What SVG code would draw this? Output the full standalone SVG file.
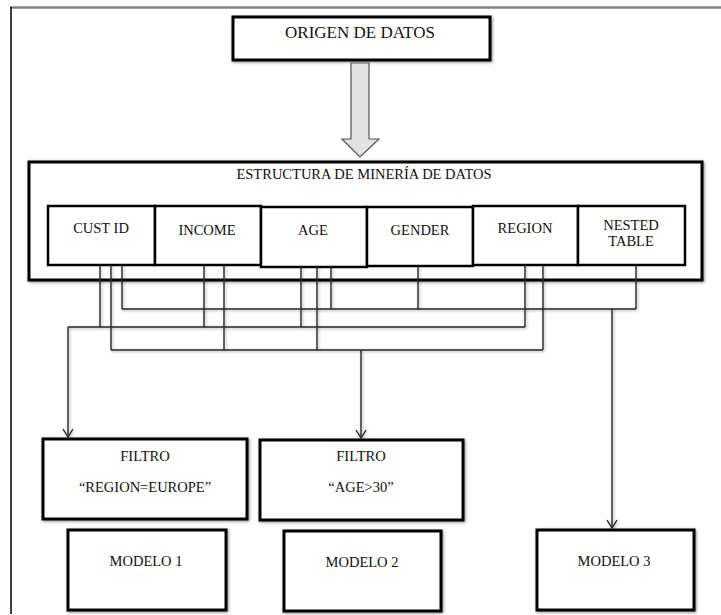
<svg xmlns="http://www.w3.org/2000/svg" width="721" height="615" viewBox="0 0 721 615">
  <style>
    .box { fill: #ffffff; stroke: #000000; stroke-width: 3; filter: url(#shadow); }
    .cell { fill: #ffffff; stroke: #000000; stroke-width: 2.5; }
    .lbl { font-family: "Liberation Serif", "DejaVu Serif", serif; font-size: 14.5px; fill: #111111; text-anchor: middle; }
    .wire { fill: none; stroke: #2a2a2a; stroke-width: 1.4; filter: url(#lineShadow); }
  </style>
  <defs>
    <filter id="shadow" x="-10%" y="-20%" width="120%" height="140%">
      <feDropShadow dx="1" dy="1" stdDeviation="1.6" flood-color="#000000" flood-opacity="0.45"/>
    </filter>
    <!-- user-space region so straight (zero-width) wires still render -->
    <filter id="lineShadow" filterUnits="userSpaceOnUse" x="0" y="0" width="721" height="615">
      <feDropShadow dx="1" dy="1" stdDeviation="1.4" flood-color="#000000" flood-opacity="0.35"/>
    </filter>
    <marker id="vhead" viewBox="-10 -6 12 12" markerWidth="12" markerHeight="12" refX="0" refY="0" orient="auto" markerUnits="userSpaceOnUse">
      <path d="M-8,-5 L0,0 L-8,5" fill="none" stroke="#2a2a2a" stroke-width="1.4"/>
    </marker>
  </defs>

  <rect width="721" height="615" fill="#ffffff"/>

  <!-- page frame -->
  <line x1="10" y1="7.5" x2="721" y2="7.5" stroke="#808080" stroke-width="2.5"/>
  <line x1="11" y1="7" x2="11" y2="614" stroke="#000000" stroke-width="1.5"/>

  <g id="origen">
    <rect class="box" x="233" y="17" width="257" height="43"/>
    <text class="lbl" x="360" y="38" style="font-size:17px">ORIGEN DE DATOS</text>
  </g>

  <!-- block arrow from source to structure -->
  <g id="flecha-bloque">
    <path d="M351,63 H369 V139 H379 L360,157 L342,139 H351 Z" fill="#e2e2e2" stroke="#555555" stroke-width="1.2"/>
  </g>

  <g id="estructura">
    <rect class="box" x="29" y="162" width="673" height="118"/>
    <text class="lbl" x="364" y="179">ESTRUCTURA DE MINERÍA DE DATOS</text>
    <g id="cust-id">
      <rect class="cell" x="48" y="206" width="107" height="59"/>
      <text class="lbl" x="101" y="233">CUST ID</text>
    </g>
    <g id="income">
      <rect class="cell" x="155" y="206" width="106" height="59"/>
      <text class="lbl" x="207" y="235">INCOME</text>
    </g>
    <g id="age">
      <rect class="cell" x="261" y="207" width="106" height="60"/>
      <text class="lbl" x="313" y="235">AGE</text>
    </g>
    <g id="gender">
      <rect class="cell" x="367" y="207" width="106" height="59"/>
      <text class="lbl" x="420" y="235">GENDER</text>
    </g>
    <g id="region">
      <rect class="cell" x="473" y="206" width="105" height="59"/>
      <text class="lbl" x="525" y="233">REGION</text>
    </g>
    <g id="nested-table">
      <rect class="cell" x="578" y="206" width="107" height="59"/>
      <text class="lbl" x="631" y="230">NESTED</text>
      <text class="lbl" x="631" y="246">TABLE</text>
    </g>
  </g>

  <g id="connectors">
    <!-- bus to model 3 -->
    <path class="wire" d="M122,265 V309 M331,266 V309 M418,266 V309 M636,265 V309 M122,309 H636"/>
    <path class="wire" d="M612,309 V528" marker-end="url(#vhead)"/>
    <!-- bus to filter 1 -->
    <path class="wire" d="M100,265 V327 M204,265 V327 M301,266 V327 M525,265 V327 M68,327 H525"/>
    <path class="wire" d="M68,327 V437" marker-end="url(#vhead)"/>
    <!-- bus to filter 2 -->
    <path class="wire" d="M111,265 V350 M224,265 V350 M317,266 V350 M543,265 V350 M111,350 H543"/>
    <path class="wire" d="M361,350 V438" marker-end="url(#vhead)"/>
  </g>

  <g id="filtro-1">
    <rect class="box" x="43" y="439" width="204" height="80"/>
    <text class="lbl" x="145" y="461">FILTRO</text>
    <text class="lbl" x="145" y="492">“REGION=EUROPE”</text>
  </g>

  <g id="filtro-2">
    <rect class="box" x="260" y="440" width="203" height="80"/>
    <text class="lbl" x="361" y="461">FILTRO</text>
    <text class="lbl" x="361" y="492">“AGE&gt;30”</text>
  </g>

  <g id="modelo-1">
    <rect class="box" x="68" y="530" width="158" height="80"/>
    <text class="lbl" x="146" y="566">MODELO 1</text>
  </g>

  <g id="modelo-2">
    <rect class="box" x="284" y="531" width="157" height="80"/>
    <text class="lbl" x="362" y="567">MODELO 2</text>
  </g>

  <g id="modelo-3">
    <rect class="box" x="537" y="530" width="157" height="80"/>
    <text class="lbl" x="614" y="566">MODELO 3</text>
  </g>
</svg>
